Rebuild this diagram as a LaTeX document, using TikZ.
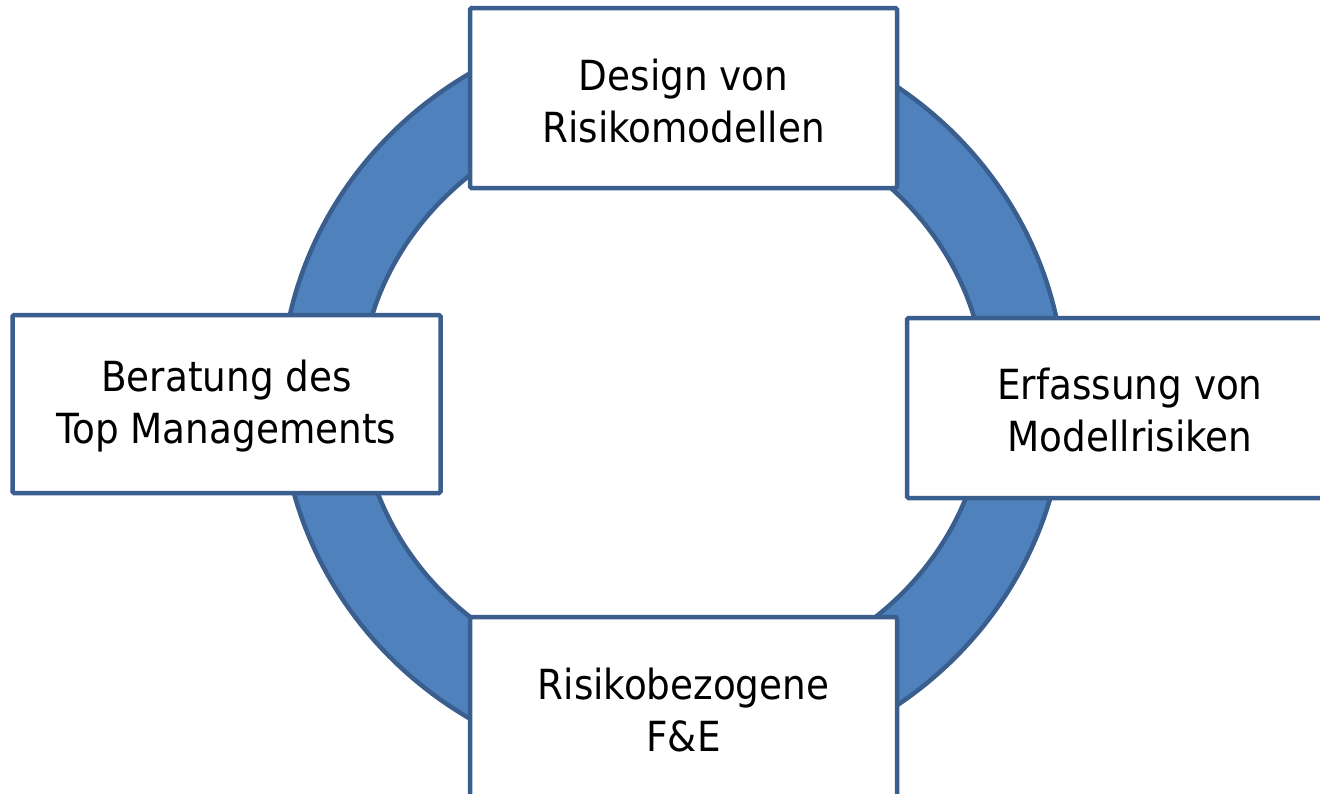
\documentclass[tikz,border=0pt]{standalone}
\usepackage{fontspec}
\setmainfont{DejaVu Sans Condensed}
\definecolor{ringfill}{HTML}{4F81BD}
\definecolor{ringline}{HTML}{3A5F8E}
\begin{document}
\begin{tikzpicture}[x=1pt,y=-1pt,
  ring/.style={fill=ringfill,draw=ringline,line width=4.5pt,even odd rule},
  stagebox/.style={draw=ringline,fill=white,line width=4.5pt,rectangle,rounded corners=1.5pt,
    align=center,inner sep=0pt,minimum height=180pt,
    font=\fontsize{41.5}{52}\selectfont},
  stagetext/.style={align=center,inner sep=0pt,font=\fontsize{41.5}{52}\selectfont}]
\useasboundingbox (0,0) rectangle (1320,793);
\fill[white] (0,0) rectangle (1320,793);
\draw[ring] (672.8,396) ellipse [x radius=392pt, y radius=377pt]
            (672.8,396) ellipse [x radius=313pt, y radius=290pt];
\node[stagebox,minimum width=427pt] (design) at (683.5,98) {};
\node[stagetext] (designtxt) at ([yshift=-3pt]design.center) {Design von\\Risikomodellen};
\node[stagebox,minimum width=428pt,minimum height=178pt] (beratung) at (226.5,404) {};
\node[stagetext] (beratungtxt) at ([yshift=-2pt]beratung.center) {Beratung des\\Top Managements};
\node[stagebox,minimum width=446pt] (erfassung) at (1130,408) {};
\node[stagetext] (erfassungtxt) at ([yshift=-2pt]erfassung.center) {Erfassung von\\Modellrisiken};
\node[stagebox,minimum width=427pt] (fue) at (683.5,707) {};
\node[stagetext] (fuetxt) at ([yshift=-3pt]fue.center) {Risikobezogene\\F\&E};
\end{tikzpicture}
\end{document}
